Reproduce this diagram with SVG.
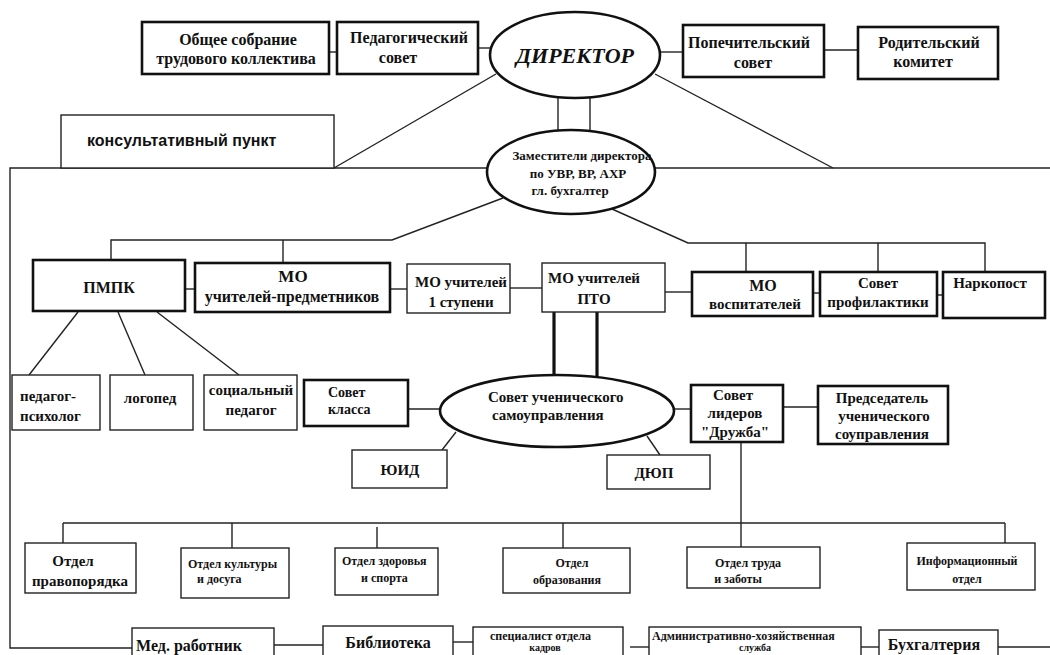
<svg xmlns="http://www.w3.org/2000/svg" width="1050" height="655" viewBox="0 0 1050 655">
<style>
.bg{fill:#fff}
.bx{fill:#fff;stroke:#111;stroke-width:2.6}
.bt{fill:#fff;stroke:#222;stroke-width:1.4}
.el{fill:#fff;stroke:#111;stroke-width:2.6}
.ln{fill:none;stroke:#222;stroke-width:1.4}
.dl{fill:none;stroke:#111;stroke-width:3.2}
text{font-family:"Liberation Serif","Times New Roman",serif;font-weight:bold;fill:#111}
.c{text-anchor:middle}
.sans{font-family:"Liberation Sans",Arial,sans-serif}
</style>
<rect class="bg" x="0" y="0" width="1050" height="655"/>
<g id="connectors">
  <line class="ln" x1="329" y1="52" x2="337" y2="52"/>
  <line class="ln" x1="478" y1="48" x2="491" y2="48"/>
  <line class="ln" x1="660" y1="52" x2="683" y2="52"/>
  <line class="ln" x1="824" y1="50" x2="858" y2="50"/>
  <line class="ln" x1="558" y1="97" x2="558" y2="131"/>
  <line class="ln" x1="590" y1="97" x2="590" y2="131"/>
  <line class="ln" x1="496" y1="74" x2="334" y2="168"/>
  <line class="ln" x1="655" y1="74" x2="833" y2="168"/>
  <polyline class="ln" points="487,168 10,168 10,648 132,648"/>
  <line class="ln" x1="655" y1="168" x2="1050" y2="168"/>
  <polyline class="ln" points="503,198 392,240 111,240 111,260"/>
  <line class="ln" x1="283" y1="240" x2="283" y2="263"/>
  <polyline class="ln" points="612,209 688,243 985,243 985,272"/>
  <line class="ln" x1="746" y1="243" x2="746" y2="272"/>
  <line class="ln" x1="878" y1="243" x2="878" y2="272"/>
  <line class="ln" x1="185" y1="289" x2="195" y2="289"/>
  <line class="ln" x1="390" y1="289" x2="407" y2="289"/>
  <line class="ln" x1="510" y1="288" x2="542" y2="288"/>
  <line class="ln" x1="665" y1="292" x2="692" y2="292"/>
  <line class="ln" x1="813" y1="293" x2="820" y2="293"/>
  <line class="ln" x1="937" y1="295" x2="943" y2="295"/>
  <line class="ln" x1="78" y1="312" x2="29" y2="375"/>
  <line class="ln" x1="118" y1="312" x2="145" y2="375"/>
  <line class="ln" x1="157" y1="312" x2="239" y2="375"/>
  <line class="dl" x1="554" y1="312" x2="554" y2="376"/>
  <line class="dl" x1="597" y1="312" x2="597" y2="377"/>
  <line class="ln" x1="408" y1="409" x2="441" y2="409"/>
  <line class="ln" x1="456" y1="432" x2="442" y2="450"/>
  <line class="ln" x1="647" y1="436" x2="660" y2="455"/>
  <line class="ln" x1="674" y1="409" x2="691" y2="409"/>
  <line class="ln" x1="783" y1="407" x2="818" y2="407"/>
  <line class="ln" x1="741" y1="442" x2="741" y2="523"/>
  <line class="ln" x1="63" y1="523" x2="1005" y2="523"/>
  <line class="ln" x1="63" y1="523" x2="63" y2="543"/>
  <line class="ln" x1="232" y1="523" x2="232" y2="548"/>
  <line class="ln" x1="377" y1="527" x2="377" y2="548"/>
  <line class="ln" x1="563" y1="523" x2="563" y2="548"/>
  <line class="ln" x1="741" y1="523" x2="741" y2="547"/>
  <line class="ln" x1="1005" y1="523" x2="1005" y2="543"/>
  <line class="ln" x1="274" y1="645" x2="323" y2="645"/>
  <line class="ln" x1="453" y1="642" x2="473" y2="642"/>
  <line class="ln" x1="630" y1="647" x2="649" y2="647"/>
  <line class="ln" x1="861" y1="647" x2="879" y2="647"/>
  <line class="ln" x1="998" y1="647" x2="1050" y2="647"/>
</g>
<g id="obshee"><rect class="bx" x="142" y="22" width="187" height="52"/><text class="c" x="238" y="45" font-size="16">Общее собрание</text><text class="c" x="236" y="64" font-size="16">трудового коллектива</text></g>
<g id="pedsovet"><rect class="bx" x="337" y="22" width="141" height="52"/><text class="c" x="409" y="43" font-size="16">Педагогический</text><text class="c" x="398" y="63" font-size="16">совет</text></g>
<g id="director"><ellipse class="el" cx="575" cy="55" rx="85" ry="43"/><text class="c" x="575" y="63" font-size="22" font-style="italic">ДИРЕКТОР</text></g>
<g id="popech"><rect class="bx" x="683" y="25" width="141" height="52"/><text class="c" x="749" y="48" font-size="16">Попечительский</text><text class="c" x="753" y="68" font-size="16">совет</text></g>
<g id="roditel"><rect class="bx" x="858" y="27" width="140" height="52"/><text class="c" x="929" y="48" font-size="16">Родительский</text><text class="c" x="923" y="67" font-size="16">комитет</text></g>
<g id="konsult"><rect class="bt" x="61" y="115" width="273" height="53"/><text class="sans" x="87" y="146" font-size="16">консультативный пункт</text></g>
<g id="zam"><ellipse class="el" cx="571" cy="172" rx="84" ry="42"/><text class="c" x="582" y="160" font-size="13">Заместители директора</text><text class="c" x="578" y="178" font-size="13">по УВР, ВР, АХР</text><text class="c" x="570" y="195" font-size="13">гл. бухгалтер</text></g>
<g id="pmpk"><rect class="bx" x="33" y="260" width="152" height="51"/><text class="c" x="109" y="293" font-size="16">ПМПК</text></g>
<g id="mo-predm"><rect class="bx" x="195" y="263" width="195" height="49"/><text class="c" x="293" y="282" font-size="17">МО</text><text class="c" x="292" y="302" font-size="16">учителей-предметников</text></g>
<g id="mo-1st"><rect class="bt" x="407" y="264" width="103" height="49"/><text class="c" x="461" y="287" font-size="15">МО учителей</text><text class="c" x="461" y="307" font-size="15">1 ступени</text></g>
<g id="mo-pto"><rect class="bt" x="542" y="263" width="123" height="49"/><text class="c" x="594" y="283" font-size="15">МО учителей</text><text class="c" x="594" y="304" font-size="15">ПТО</text></g>
<g id="mo-vosp"><rect class="bx" x="692" y="272" width="121" height="44"/><text class="c" x="763" y="291" font-size="16">МО</text><text class="c" x="755" y="309" font-size="15">воспитателей</text></g>
<g id="sovet-prof"><rect class="bx" x="820" y="272" width="117" height="44"/><text class="c" x="878" y="288" font-size="15">Совет</text><text class="c" x="878" y="307" font-size="15">профилактики</text></g>
<g id="narkopost"><rect class="bx" x="943" y="272" width="102" height="46"/><text class="c" x="990" y="288" font-size="15">Наркопост</text></g>
<g id="ped-psih"><rect class="bt" x="12" y="375" width="88" height="55"/><text x="20" y="401" font-size="15">педагог-</text><text x="20" y="421" font-size="15">психолог</text></g>
<g id="logoped"><rect class="bt" x="110" y="375" width="83" height="55"/><text class="c" x="150" y="403" font-size="15">логопед</text></g>
<g id="soc-ped"><rect class="bt" x="204" y="375" width="93" height="55"/><text class="c" x="251" y="395" font-size="15">социальный</text><text class="c" x="251" y="415" font-size="15">педагог</text></g>
<g id="sovet-klassa"><rect class="bx" x="304" y="380" width="104" height="46"/><text x="328" y="397" font-size="14">Совет</text><text x="328" y="414" font-size="14">класса</text></g>
<g id="sovet-uch"><ellipse class="el" cx="557" cy="411" rx="117" ry="36"/><text x="488" y="402" font-size="15">Совет ученического</text><text x="492" y="420" font-size="15">самоуправления</text></g>
<g id="yuid"><rect class="bt" x="352" y="450" width="95" height="38"/><text class="c" x="400" y="475" font-size="15">ЮИД</text></g>
<g id="dyup"><rect class="bt" x="607" y="455" width="103" height="34"/><text class="c" x="654" y="478" font-size="15">ДЮП</text></g>
<g id="sovet-liderov"><rect class="bx" x="691" y="385" width="92" height="57"/><text class="c" x="733" y="400" font-size="15">Совет</text><text class="c" x="735" y="418" font-size="15">лидеров</text><text class="c" x="735" y="437" font-size="15">"Дружба"</text></g>
<g id="predsedatel"><rect class="bx" x="818" y="386" width="130" height="58"/><text class="c" x="882" y="403" font-size="15">Председатель</text><text class="c" x="884" y="421" font-size="15">ученического</text><text class="c" x="882" y="439" font-size="15">соуправления</text></g>
<g id="otdel-pravo"><rect class="bt" x="25" y="543" width="111" height="50"/><text class="c" x="73" y="566" font-size="15">Отдел</text><text class="c" x="80" y="586" font-size="15">правопорядка</text></g>
<g id="otdel-kult"><rect class="bt" x="181" y="548" width="108" height="50"/><text x="188" y="568" font-size="12">Отдел культуры</text><text x="197" y="583" font-size="12">и досуга</text></g>
<g id="otdel-zdor"><rect class="bt" x="335" y="548" width="103" height="47"/><text x="342" y="565" font-size="12">Отдел здоровья</text><text x="361" y="582" font-size="12">и спорта</text></g>
<g id="otdel-obr"><rect class="bt" x="503" y="548" width="127" height="45"/><text class="c" x="572" y="567" font-size="12">Отдел</text><text class="c" x="567" y="584" font-size="12">образования</text></g>
<g id="otdel-truda"><rect class="bt" x="687" y="547" width="133" height="41"/><text class="c" x="748" y="567" font-size="12">Отдел труда</text><text class="c" x="738" y="583" font-size="12">и заботы</text></g>
<g id="otdel-inform"><rect class="bt" x="907" y="543" width="128" height="47"/><text class="c" x="967" y="565" font-size="12">Информационный</text><text class="c" x="967" y="583" font-size="12">отдел</text></g>
<g id="med"><rect class="bt" x="132" y="628" width="142" height="40"/><text x="136" y="651" font-size="16">Мед. работник</text></g>
<g id="biblio"><rect class="bt" x="323" y="626" width="130" height="42"/><text class="c" x="388" y="648" font-size="16">Библиотека</text></g>
<g id="kadry"><rect class="bt" x="473" y="627" width="150" height="40"/><text x="490" y="640" font-size="12">специалист  отдела</text><text class="c" x="545" y="651" font-size="10">кадров</text></g>
<g id="ahs"><rect class="bt" x="649" y="627" width="212" height="40"/><text x="652" y="640" font-size="12">Административно-хозяйственная</text><text class="c" x="755" y="651" font-size="10">служба</text></g>
<g id="buh"><rect class="bt" x="879" y="630" width="119" height="38"/><text class="c" x="934" y="650" font-size="16">Бухгалтерия</text></g>
</svg>
